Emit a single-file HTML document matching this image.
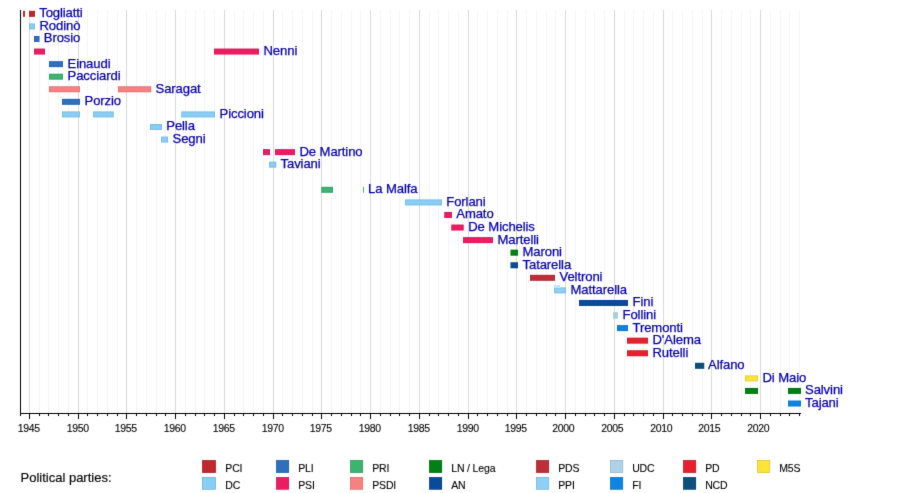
<!DOCTYPE html>
<html><head><meta charset="utf-8"><title>Deputy Prime Ministers timeline</title>
<style>
html,body{margin:0;padding:0;background:#fff;}
body{width:900px;height:493px;overflow:hidden;font-family:"Liberation Sans",sans-serif;}
svg{display:block;}

svg text{font-family:"Liberation Sans",sans-serif;}
</style></head><body>
<svg width="900" height="493" viewBox="0 0 900 493">
<defs><filter id="soft" x="0" y="0" width="900" height="493" filterUnits="userSpaceOnUse" color-interpolation-filters="sRGB"><feConvolveMatrix order="3" kernelMatrix="0.01 0.08 0.01 0.08 0.64 0.08 0.01 0.08 0.01" edgeMode="duplicate"/></filter></defs>
<g filter="url(#soft)"><rect x="0" y="0" width="900" height="493" fill="#fff"/>
<g shape-rendering="crispEdges"><rect x="29" y="10" width="1" height="403" fill="#d9d9d9"/><rect x="39" y="10" width="1" height="403" fill="#f5f5f5"/><rect x="48" y="10" width="1" height="403" fill="#f5f5f5"/><rect x="58" y="10" width="1" height="403" fill="#f5f5f5"/><rect x="68" y="10" width="1" height="403" fill="#f5f5f5"/><rect x="78" y="10" width="1" height="403" fill="#d9d9d9"/><rect x="87" y="10" width="1" height="403" fill="#f5f5f5"/><rect x="97" y="10" width="1" height="403" fill="#f5f5f5"/><rect x="107" y="10" width="1" height="403" fill="#f5f5f5"/><rect x="117" y="10" width="1" height="403" fill="#f5f5f5"/><rect x="126" y="10" width="1" height="403" fill="#d9d9d9"/><rect x="136" y="10" width="1" height="403" fill="#f5f5f5"/><rect x="146" y="10" width="1" height="403" fill="#f5f5f5"/><rect x="156" y="10" width="1" height="403" fill="#f5f5f5"/><rect x="165" y="10" width="1" height="403" fill="#f5f5f5"/><rect x="175" y="10" width="1" height="403" fill="#d9d9d9"/><rect x="185" y="10" width="1" height="403" fill="#f5f5f5"/><rect x="195" y="10" width="1" height="403" fill="#f5f5f5"/><rect x="204" y="10" width="1" height="403" fill="#f5f5f5"/><rect x="214" y="10" width="1" height="403" fill="#f5f5f5"/><rect x="224" y="10" width="1" height="403" fill="#d9d9d9"/><rect x="234" y="10" width="1" height="403" fill="#f5f5f5"/><rect x="243" y="10" width="1" height="403" fill="#f5f5f5"/><rect x="253" y="10" width="1" height="403" fill="#f5f5f5"/><rect x="263" y="10" width="1" height="403" fill="#f5f5f5"/><rect x="273" y="10" width="1" height="403" fill="#d9d9d9"/><rect x="282" y="10" width="1" height="403" fill="#f5f5f5"/><rect x="292" y="10" width="1" height="403" fill="#f5f5f5"/><rect x="302" y="10" width="1" height="403" fill="#f5f5f5"/><rect x="312" y="10" width="1" height="403" fill="#f5f5f5"/><rect x="321" y="10" width="1" height="403" fill="#d9d9d9"/><rect x="331" y="10" width="1" height="403" fill="#f5f5f5"/><rect x="341" y="10" width="1" height="403" fill="#f5f5f5"/><rect x="351" y="10" width="1" height="403" fill="#f5f5f5"/><rect x="360" y="10" width="1" height="403" fill="#f5f5f5"/><rect x="370" y="10" width="1" height="403" fill="#d9d9d9"/><rect x="380" y="10" width="1" height="403" fill="#f5f5f5"/><rect x="390" y="10" width="1" height="403" fill="#f5f5f5"/><rect x="399" y="10" width="1" height="403" fill="#f5f5f5"/><rect x="409" y="10" width="1" height="403" fill="#f5f5f5"/><rect x="419" y="10" width="1" height="403" fill="#d9d9d9"/><rect x="429" y="10" width="1" height="403" fill="#f5f5f5"/><rect x="438" y="10" width="1" height="403" fill="#f5f5f5"/><rect x="448" y="10" width="1" height="403" fill="#f5f5f5"/><rect x="458" y="10" width="1" height="403" fill="#f5f5f5"/><rect x="468" y="10" width="1" height="403" fill="#d9d9d9"/><rect x="477" y="10" width="1" height="403" fill="#f5f5f5"/><rect x="487" y="10" width="1" height="403" fill="#f5f5f5"/><rect x="497" y="10" width="1" height="403" fill="#f5f5f5"/><rect x="507" y="10" width="1" height="403" fill="#f5f5f5"/><rect x="516" y="10" width="1" height="403" fill="#d9d9d9"/><rect x="526" y="10" width="1" height="403" fill="#f5f5f5"/><rect x="536" y="10" width="1" height="403" fill="#f5f5f5"/><rect x="546" y="10" width="1" height="403" fill="#f5f5f5"/><rect x="555" y="10" width="1" height="403" fill="#f5f5f5"/><rect x="565" y="10" width="1" height="403" fill="#d9d9d9"/><rect x="575" y="10" width="1" height="403" fill="#f5f5f5"/><rect x="585" y="10" width="1" height="403" fill="#f5f5f5"/><rect x="594" y="10" width="1" height="403" fill="#f5f5f5"/><rect x="604" y="10" width="1" height="403" fill="#f5f5f5"/><rect x="614" y="10" width="1" height="403" fill="#d9d9d9"/><rect x="624" y="10" width="1" height="403" fill="#f5f5f5"/><rect x="633" y="10" width="1" height="403" fill="#f5f5f5"/><rect x="643" y="10" width="1" height="403" fill="#f5f5f5"/><rect x="653" y="10" width="1" height="403" fill="#f5f5f5"/><rect x="663" y="10" width="1" height="403" fill="#d9d9d9"/><rect x="672" y="10" width="1" height="403" fill="#f5f5f5"/><rect x="682" y="10" width="1" height="403" fill="#f5f5f5"/><rect x="692" y="10" width="1" height="403" fill="#f5f5f5"/><rect x="702" y="10" width="1" height="403" fill="#f5f5f5"/><rect x="711" y="10" width="1" height="403" fill="#d9d9d9"/><rect x="721" y="10" width="1" height="403" fill="#f5f5f5"/><rect x="731" y="10" width="1" height="403" fill="#f5f5f5"/><rect x="741" y="10" width="1" height="403" fill="#f5f5f5"/><rect x="750" y="10" width="1" height="403" fill="#f5f5f5"/><rect x="760" y="10" width="1" height="403" fill="#d9d9d9"/><rect x="770" y="10" width="1" height="403" fill="#f5f5f5"/><rect x="780" y="10" width="1" height="403" fill="#f5f5f5"/><rect x="789" y="10" width="1" height="403" fill="#f5f5f5"/><rect x="799" y="10" width="1" height="403" fill="#f5f5f5"/></g>
<g><rect x="23.00" y="10.85" width="2.00" height="6" fill="#c1272d"/><rect x="29.00" y="10.85" width="6.00" height="6" fill="#c1272d"/><rect x="29.50" y="11.35" width="5.00" height="5" fill="none" stroke="#000" stroke-opacity="0.08" stroke-width="1"/><rect x="29.00" y="23.42" width="6.00" height="6" fill="#88cdf6"/><rect x="29.50" y="23.92" width="5.00" height="5" fill="none" stroke="#000" stroke-opacity="0.08" stroke-width="1"/><rect x="34.00" y="35.99" width="5.50" height="6" fill="#2e6fbe"/><rect x="34.50" y="36.49" width="4.50" height="5" fill="none" stroke="#000" stroke-opacity="0.08" stroke-width="1"/><rect x="34.00" y="48.56" width="11.00" height="6" fill="#ec1c62"/><rect x="34.50" y="49.06" width="10.00" height="5" fill="none" stroke="#000" stroke-opacity="0.08" stroke-width="1"/><rect x="214.00" y="48.56" width="45.00" height="6" fill="#ec1c62"/><rect x="214.50" y="49.06" width="44.00" height="5" fill="none" stroke="#000" stroke-opacity="0.08" stroke-width="1"/><rect x="49.00" y="61.13" width="14.00" height="6" fill="#2e6fbe"/><rect x="49.50" y="61.63" width="13.00" height="5" fill="none" stroke="#000" stroke-opacity="0.08" stroke-width="1"/><rect x="49.00" y="73.70" width="14.00" height="6" fill="#3cb371"/><rect x="49.50" y="74.20" width="13.00" height="5" fill="none" stroke="#000" stroke-opacity="0.08" stroke-width="1"/><rect x="49.00" y="86.27" width="31.00" height="6" fill="#f78080"/><rect x="49.50" y="86.77" width="30.00" height="5" fill="none" stroke="#000" stroke-opacity="0.08" stroke-width="1"/><rect x="118.00" y="86.27" width="33.25" height="6" fill="#f78080"/><rect x="118.50" y="86.77" width="32.25" height="5" fill="none" stroke="#000" stroke-opacity="0.08" stroke-width="1"/><rect x="62.00" y="98.84" width="18.00" height="6" fill="#2e6fbe"/><rect x="62.50" y="99.34" width="17.00" height="5" fill="none" stroke="#000" stroke-opacity="0.08" stroke-width="1"/><rect x="62.00" y="111.41" width="18.00" height="6" fill="#88cdf6"/><rect x="62.50" y="111.91" width="17.00" height="5" fill="none" stroke="#000" stroke-opacity="0.08" stroke-width="1"/><rect x="93.00" y="111.41" width="20.75" height="6" fill="#88cdf6"/><rect x="93.50" y="111.91" width="19.75" height="5" fill="none" stroke="#000" stroke-opacity="0.08" stroke-width="1"/><rect x="181.25" y="111.41" width="33.75" height="6" fill="#88cdf6"/><rect x="181.75" y="111.91" width="32.75" height="5" fill="none" stroke="#000" stroke-opacity="0.08" stroke-width="1"/><rect x="150.00" y="123.98" width="12.00" height="6" fill="#88cdf6"/><rect x="150.50" y="124.48" width="11.00" height="5" fill="none" stroke="#000" stroke-opacity="0.08" stroke-width="1"/><rect x="161.00" y="136.55" width="7.00" height="6" fill="#88cdf6"/><rect x="161.50" y="137.05" width="6.00" height="5" fill="none" stroke="#000" stroke-opacity="0.08" stroke-width="1"/><rect x="263.00" y="149.12" width="7.00" height="6" fill="#ec1c62"/><rect x="263.50" y="149.62" width="6.00" height="5" fill="none" stroke="#000" stroke-opacity="0.08" stroke-width="1"/><rect x="275.00" y="149.12" width="20.00" height="6" fill="#ec1c62"/><rect x="275.50" y="149.62" width="19.00" height="5" fill="none" stroke="#000" stroke-opacity="0.08" stroke-width="1"/><rect x="269.00" y="161.69" width="7.25" height="6" fill="#88cdf6"/><rect x="269.50" y="162.19" width="6.25" height="5" fill="none" stroke="#000" stroke-opacity="0.08" stroke-width="1"/><rect x="321.25" y="186.83" width="11.75" height="6" fill="#3cb371"/><rect x="321.75" y="187.33" width="10.75" height="5" fill="none" stroke="#000" stroke-opacity="0.08" stroke-width="1"/><rect x="363.00" y="186.83" width="1.00" height="6" fill="#3cb371"/><rect x="405.00" y="199.40" width="37.00" height="6" fill="#88cdf6"/><rect x="405.50" y="199.90" width="36.00" height="5" fill="none" stroke="#000" stroke-opacity="0.08" stroke-width="1"/><rect x="444.25" y="211.97" width="7.75" height="6" fill="#ec1c62"/><rect x="444.75" y="212.47" width="6.75" height="5" fill="none" stroke="#000" stroke-opacity="0.08" stroke-width="1"/><rect x="451.25" y="224.54" width="12.50" height="6" fill="#ec1c62"/><rect x="451.75" y="225.04" width="11.50" height="5" fill="none" stroke="#000" stroke-opacity="0.08" stroke-width="1"/><rect x="463.00" y="237.11" width="30.00" height="6" fill="#ec1c62"/><rect x="463.50" y="237.61" width="29.00" height="5" fill="none" stroke="#000" stroke-opacity="0.08" stroke-width="1"/><rect x="510.50" y="249.68" width="7.50" height="6" fill="#008015"/><rect x="511.00" y="250.18" width="6.50" height="5" fill="none" stroke="#000" stroke-opacity="0.08" stroke-width="1"/><rect x="510.50" y="262.25" width="7.50" height="6" fill="#0a4a9a"/><rect x="511.00" y="262.75" width="6.50" height="5" fill="none" stroke="#000" stroke-opacity="0.08" stroke-width="1"/><rect x="530.00" y="274.82" width="25.00" height="6" fill="#c02d38"/><rect x="530.50" y="275.32" width="24.00" height="5" fill="none" stroke="#000" stroke-opacity="0.08" stroke-width="1"/><rect x="554.00" y="287.39" width="12.00" height="6" fill="#8dd0f5"/><rect x="554.50" y="287.89" width="11.00" height="5" fill="none" stroke="#000" stroke-opacity="0.08" stroke-width="1"/><rect x="579.00" y="299.96" width="49.00" height="6" fill="#0a4a9a"/><rect x="579.50" y="300.46" width="48.00" height="5" fill="none" stroke="#000" stroke-opacity="0.08" stroke-width="1"/><rect x="613.00" y="312.53" width="5.00" height="6" fill="#aed3e8"/><rect x="613.50" y="313.03" width="4.00" height="5" fill="none" stroke="#000" stroke-opacity="0.08" stroke-width="1"/><rect x="617.00" y="325.10" width="11.00" height="6" fill="#0d85e0"/><rect x="617.50" y="325.60" width="10.00" height="5" fill="none" stroke="#000" stroke-opacity="0.08" stroke-width="1"/><rect x="627.00" y="337.67" width="21.00" height="6" fill="#e8202e"/><rect x="627.50" y="338.17" width="20.00" height="5" fill="none" stroke="#000" stroke-opacity="0.08" stroke-width="1"/><rect x="627.00" y="350.24" width="21.00" height="6" fill="#e8202e"/><rect x="627.50" y="350.74" width="20.00" height="5" fill="none" stroke="#000" stroke-opacity="0.08" stroke-width="1"/><rect x="695.00" y="362.81" width="9.25" height="6" fill="#0c4e7c"/><rect x="695.50" y="363.31" width="8.25" height="5" fill="none" stroke="#000" stroke-opacity="0.08" stroke-width="1"/><rect x="745.00" y="375.38" width="13.00" height="6" fill="#ffe335"/><rect x="745.50" y="375.88" width="12.00" height="5" fill="none" stroke="#000" stroke-opacity="0.08" stroke-width="1"/><rect x="745.00" y="387.95" width="13.00" height="6" fill="#008015"/><rect x="745.50" y="388.45" width="12.00" height="5" fill="none" stroke="#000" stroke-opacity="0.08" stroke-width="1"/><rect x="788.00" y="387.95" width="13.00" height="6" fill="#008015"/><rect x="788.50" y="388.45" width="12.00" height="5" fill="none" stroke="#000" stroke-opacity="0.08" stroke-width="1"/><rect x="788.00" y="400.52" width="13.00" height="6" fill="#0d85e0"/><rect x="788.50" y="401.02" width="12.00" height="5" fill="none" stroke="#000" stroke-opacity="0.08" stroke-width="1"/><rect x="554" y="285" width="6" height="3" fill="#c6e4f7"/><rect x="613" y="312.2" width="5" height="6" fill="#a9d0d6"/></g>
<g font-family="Liberation Sans, sans-serif" font-size="13.1" fill="#0600aa" stroke="#0600aa" stroke-width="0.25" letter-spacing="-0.1"><text x="39.20" y="17.25">Togliatti</text><text x="39.50" y="29.82">Rodinò</text><text x="43.75" y="42.39">Brosio</text><text x="263.50" y="54.96">Nenni</text><text x="67.50" y="67.53">Einaudi</text><text x="67.50" y="80.10">Pacciardi</text><text x="155.50" y="92.67">Saragat</text><text x="84.50" y="105.24">Porzio</text><text x="219.50" y="117.81">Piccioni</text><text x="166.25" y="130.38">Pella</text><text x="172.50" y="142.95">Segni</text><text x="299.50" y="155.52">De Martino</text><text x="280.50" y="168.09">Taviani</text><text x="368.00" y="193.23">La Malfa</text><text x="446.25" y="205.80">Forlani</text><text x="456.25" y="218.37">Amato</text><text x="468.25" y="230.94">De Michelis</text><text x="497.50" y="243.51">Martelli</text><text x="522.50" y="256.08">Maroni</text><text x="522.50" y="268.65">Tatarella</text><text x="559.50" y="281.22">Veltroni</text><text x="570.50" y="293.79">Mattarella</text><text x="632.50" y="306.36">Fini</text><text x="622.50" y="318.93">Follini</text><text x="632.50" y="331.50">Tremonti</text><text x="652.50" y="344.07">D'Alema</text><text x="652.50" y="356.64">Rutelli</text><text x="708.00" y="369.21">Alfano</text><text x="762.50" y="381.78">Di Maio</text><text x="805.00" y="394.35">Salvini</text><text x="805.00" y="406.92">Tajani</text></g>
<g shape-rendering="crispEdges"><rect x="20" y="10" width="1" height="404" fill="#000"/><rect x="20" y="413" width="781" height="1" fill="#000"/><rect x="20" y="413" width="1" height="3" fill="#000"/><rect x="29" y="413" width="1" height="6" fill="#000"/><rect x="39" y="413" width="1" height="3" fill="#000"/><rect x="48" y="413" width="1" height="3" fill="#000"/><rect x="58" y="413" width="1" height="3" fill="#000"/><rect x="68" y="413" width="1" height="3" fill="#000"/><rect x="78" y="413" width="1" height="6" fill="#000"/><rect x="87" y="413" width="1" height="3" fill="#000"/><rect x="97" y="413" width="1" height="3" fill="#000"/><rect x="107" y="413" width="1" height="3" fill="#000"/><rect x="117" y="413" width="1" height="3" fill="#000"/><rect x="126" y="413" width="1" height="6" fill="#000"/><rect x="136" y="413" width="1" height="3" fill="#000"/><rect x="146" y="413" width="1" height="3" fill="#000"/><rect x="156" y="413" width="1" height="3" fill="#000"/><rect x="165" y="413" width="1" height="3" fill="#000"/><rect x="175" y="413" width="1" height="6" fill="#000"/><rect x="185" y="413" width="1" height="3" fill="#000"/><rect x="195" y="413" width="1" height="3" fill="#000"/><rect x="204" y="413" width="1" height="3" fill="#000"/><rect x="214" y="413" width="1" height="3" fill="#000"/><rect x="224" y="413" width="1" height="6" fill="#000"/><rect x="234" y="413" width="1" height="3" fill="#000"/><rect x="243" y="413" width="1" height="3" fill="#000"/><rect x="253" y="413" width="1" height="3" fill="#000"/><rect x="263" y="413" width="1" height="3" fill="#000"/><rect x="273" y="413" width="1" height="6" fill="#000"/><rect x="282" y="413" width="1" height="3" fill="#000"/><rect x="292" y="413" width="1" height="3" fill="#000"/><rect x="302" y="413" width="1" height="3" fill="#000"/><rect x="312" y="413" width="1" height="3" fill="#000"/><rect x="321" y="413" width="1" height="6" fill="#000"/><rect x="331" y="413" width="1" height="3" fill="#000"/><rect x="341" y="413" width="1" height="3" fill="#000"/><rect x="351" y="413" width="1" height="3" fill="#000"/><rect x="360" y="413" width="1" height="3" fill="#000"/><rect x="370" y="413" width="1" height="6" fill="#000"/><rect x="380" y="413" width="1" height="3" fill="#000"/><rect x="390" y="413" width="1" height="3" fill="#000"/><rect x="399" y="413" width="1" height="3" fill="#000"/><rect x="409" y="413" width="1" height="3" fill="#000"/><rect x="419" y="413" width="1" height="6" fill="#000"/><rect x="429" y="413" width="1" height="3" fill="#000"/><rect x="438" y="413" width="1" height="3" fill="#000"/><rect x="448" y="413" width="1" height="3" fill="#000"/><rect x="458" y="413" width="1" height="3" fill="#000"/><rect x="468" y="413" width="1" height="6" fill="#000"/><rect x="477" y="413" width="1" height="3" fill="#000"/><rect x="487" y="413" width="1" height="3" fill="#000"/><rect x="497" y="413" width="1" height="3" fill="#000"/><rect x="507" y="413" width="1" height="3" fill="#000"/><rect x="516" y="413" width="1" height="6" fill="#000"/><rect x="526" y="413" width="1" height="3" fill="#000"/><rect x="536" y="413" width="1" height="3" fill="#000"/><rect x="546" y="413" width="1" height="3" fill="#000"/><rect x="555" y="413" width="1" height="3" fill="#000"/><rect x="565" y="413" width="1" height="6" fill="#000"/><rect x="575" y="413" width="1" height="3" fill="#000"/><rect x="585" y="413" width="1" height="3" fill="#000"/><rect x="594" y="413" width="1" height="3" fill="#000"/><rect x="604" y="413" width="1" height="3" fill="#000"/><rect x="614" y="413" width="1" height="6" fill="#000"/><rect x="624" y="413" width="1" height="3" fill="#000"/><rect x="633" y="413" width="1" height="3" fill="#000"/><rect x="643" y="413" width="1" height="3" fill="#000"/><rect x="653" y="413" width="1" height="3" fill="#000"/><rect x="663" y="413" width="1" height="6" fill="#000"/><rect x="672" y="413" width="1" height="3" fill="#000"/><rect x="682" y="413" width="1" height="3" fill="#000"/><rect x="692" y="413" width="1" height="3" fill="#000"/><rect x="702" y="413" width="1" height="3" fill="#000"/><rect x="711" y="413" width="1" height="6" fill="#000"/><rect x="721" y="413" width="1" height="3" fill="#000"/><rect x="731" y="413" width="1" height="3" fill="#000"/><rect x="741" y="413" width="1" height="3" fill="#000"/><rect x="750" y="413" width="1" height="3" fill="#000"/><rect x="760" y="413" width="1" height="6" fill="#000"/><rect x="770" y="413" width="1" height="3" fill="#000"/><rect x="780" y="413" width="1" height="3" fill="#000"/><rect x="789" y="413" width="1" height="3" fill="#000"/><rect x="799" y="413" width="1" height="3" fill="#000"/></g>
<g font-family="Liberation Sans, sans-serif" font-size="10.5" fill="#000" stroke="#000" stroke-width="0.1" text-anchor="middle" letter-spacing="-0.35"><text x="28.80" y="431.7">1945</text><text x="77.80" y="431.7">1950</text><text x="125.80" y="431.7">1955</text><text x="174.80" y="431.7">1960</text><text x="223.80" y="431.7">1965</text><text x="272.80" y="431.7">1970</text><text x="320.80" y="431.7">1975</text><text x="369.80" y="431.7">1980</text><text x="418.80" y="431.7">1985</text><text x="467.80" y="431.7">1990</text><text x="515.80" y="431.7">1995</text><text x="563.20" y="431.7">2000</text><text x="612.20" y="431.7">2005</text><text x="661.20" y="431.7">2010</text><text x="709.20" y="431.7">2015</text><text x="758.20" y="431.7">2020</text></g>
<text x="20.5" y="482.1" font-family="Liberation Sans, sans-serif" font-size="13" fill="#000" stroke="#000" stroke-width="0.15">Political parties:</text>
<g font-family="Liberation Sans, sans-serif" font-size="10.5" fill="#000" stroke="#000" stroke-width="0.1" letter-spacing="-0.15"><rect x="202.1" y="460.1" width="13.8" height="12.8" fill="#c1272d"/><rect x="202.60" y="460.6" width="12.80" height="11.8" fill="none" stroke="#000" stroke-opacity="0.08"/><text x="225.30" y="471.9">PCI</text><rect x="202.1" y="477.1" width="13.8" height="12.6" fill="#88cdf6"/><rect x="202.60" y="477.6" width="12.80" height="11.6" fill="none" stroke="#000" stroke-opacity="0.08"/><text x="225.30" y="488.8">DC</text><rect x="276.1" y="460.1" width="12.9" height="12.8" fill="#2e6fbe"/><rect x="276.60" y="460.6" width="11.90" height="11.8" fill="none" stroke="#000" stroke-opacity="0.08"/><text x="298.20" y="471.9">PLI</text><rect x="276.1" y="477.1" width="12.9" height="12.6" fill="#ec1c62"/><rect x="276.60" y="477.6" width="11.90" height="11.6" fill="none" stroke="#000" stroke-opacity="0.08"/><text x="298.20" y="488.8">PSI</text><rect x="350.1" y="460.1" width="12.9" height="12.8" fill="#3cb371"/><rect x="350.60" y="460.6" width="11.90" height="11.8" fill="none" stroke="#000" stroke-opacity="0.08"/><text x="372.20" y="471.9">PRI</text><rect x="350.1" y="477.1" width="12.9" height="12.6" fill="#f78080"/><rect x="350.60" y="477.6" width="11.90" height="11.6" fill="none" stroke="#000" stroke-opacity="0.08"/><text x="372.20" y="488.8">PSDI</text><rect x="429.1" y="460.1" width="12.9" height="12.8" fill="#008015"/><rect x="429.60" y="460.6" width="11.90" height="11.8" fill="none" stroke="#000" stroke-opacity="0.08"/><text x="451.20" y="471.9">LN / Lega</text><rect x="429.1" y="477.1" width="12.9" height="12.6" fill="#0a4a9a"/><rect x="429.60" y="477.6" width="11.90" height="11.6" fill="none" stroke="#000" stroke-opacity="0.08"/><text x="451.20" y="488.8">AN</text><rect x="536.1" y="460.1" width="12.9" height="12.8" fill="#c02d38"/><rect x="536.60" y="460.6" width="11.90" height="11.8" fill="none" stroke="#000" stroke-opacity="0.08"/><text x="558.20" y="471.9">PDS</text><rect x="536.1" y="477.1" width="12.9" height="12.6" fill="#8dd0f5"/><rect x="536.60" y="477.6" width="11.90" height="11.6" fill="none" stroke="#000" stroke-opacity="0.08"/><text x="558.20" y="488.8">PPI</text><rect x="610.1" y="460.1" width="12.9" height="12.8" fill="#aed3e8"/><rect x="610.60" y="460.6" width="11.90" height="11.8" fill="none" stroke="#000" stroke-opacity="0.08"/><text x="632.20" y="471.9">UDC</text><rect x="610.1" y="477.1" width="12.9" height="12.6" fill="#0d85e0"/><rect x="610.60" y="477.6" width="11.90" height="11.6" fill="none" stroke="#000" stroke-opacity="0.08"/><text x="632.20" y="488.8">FI</text><rect x="683.1" y="460.1" width="12.9" height="12.8" fill="#e8202e"/><rect x="683.60" y="460.6" width="11.90" height="11.8" fill="none" stroke="#000" stroke-opacity="0.08"/><text x="705.20" y="471.9">PD</text><rect x="683.1" y="477.1" width="12.9" height="12.6" fill="#0c4e7c"/><rect x="683.60" y="477.6" width="11.90" height="11.6" fill="none" stroke="#000" stroke-opacity="0.08"/><text x="705.20" y="488.8">NCD</text><rect x="757.1" y="460.1" width="12.9" height="12.8" fill="#ffe335"/><rect x="757.60" y="460.6" width="11.90" height="11.8" fill="none" stroke="#000" stroke-opacity="0.08"/><text x="779.20" y="471.9">M5S</text></g>
</g>
</svg>
</body></html>
